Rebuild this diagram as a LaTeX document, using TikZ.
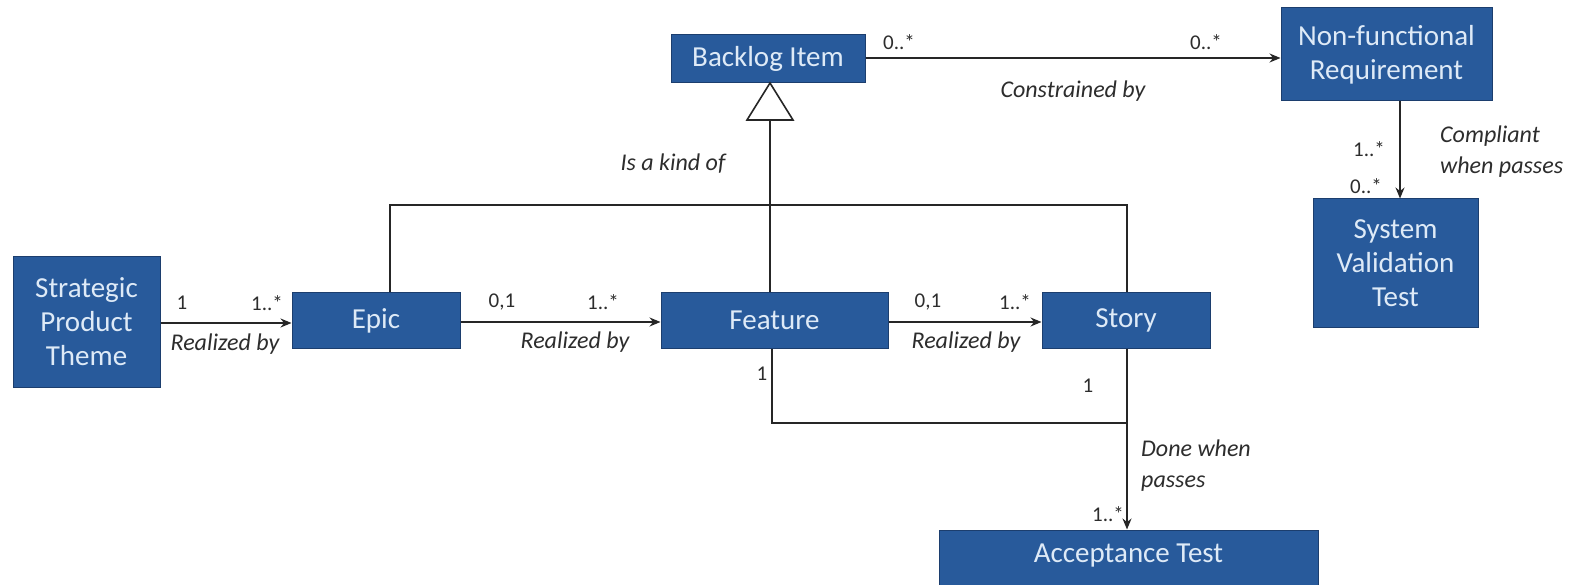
\documentclass[tikz,border=0pt]{standalone}
\usepackage{fontspec}
\setmainfont{Carlito}
\usetikzlibrary{arrows.meta}
\definecolor{boxblue}{RGB}{40,90,155}
\definecolor{boxedge}{RGB}{28,62,110}
\definecolor{boxtext}{RGB}{222,234,247}
\definecolor{lbl}{RGB}{45,45,45}
\tikzset{
  cls/.style={draw=boxedge, line width=1pt, fill=boxblue, text=boxtext,
    inner sep=0pt, align=center, font=\fontsize{29}{34}\selectfont},
  conn/.style={line width=1.6pt, draw=black!85},
  arr/.style={conn, -{Stealth[length=11pt,width=9pt]}},
  mult/.style={text=lbl, inner sep=0pt, font=\fontsize{21}{24}\selectfont},
  role/.style={text=lbl, inner sep=0pt, font=\fontsize{24}{31}\selectfont\itshape, align=left}
}
\begin{document}
\begin{tikzpicture}[x=1pt,y=-1pt]
\useasboundingbox (0,0) rectangle (1587,585);
\fill[white] (0,0) rectangle (1587,585);

% classes
\node[cls, minimum width=147pt, minimum height=130pt] (spt) at (86.5,322) {Strategic\\Product\\Theme};
\node[cls, minimum width=168pt, minimum height=55pt] (epic) at (376,320.5) {Epic};
\node[cls, minimum width=227pt, minimum height=55pt] (feature) at (774.5,320.5) {Feature};
\node[cls, minimum width=168pt, minimum height=55pt] (story) at (1126,320.5) {Story};
\node[cls, minimum width=194pt, minimum height=48pt] (backlog) at (768,59) {Backlog Item};
\node[cls, minimum width=211pt, minimum height=93pt] (nfr) at (1386.5,54.5) {Non-functional\\Requirement};
\node[cls, minimum width=165pt, minimum height=128pt] (svt) at (1395.5,263) {System\\Validation\\Test};
\node[cls, minimum width=379pt, minimum height=62pt] (acc) at (1128.5,561) {};
\node[text=boxtext, font=\fontsize{29}{34}\selectfont, inner sep=0pt] (acctxt) at (1128.5,556) {Acceptance Test};

% helper points
\coordinate (genTop) at (770,83);
\coordinate (genBase) at (770,120);
\coordinate (epicUp) at (390,205);
\coordinate (storyUp) at (1127,205);
\coordinate (featDown) at (772,423);
\coordinate (storyDown) at (1127,423);

% realization chain
\draw[arr] (spt.east |- 0,323) -- (epic.west |- 0,323);
\draw[arr] (epic.east |- 0,322) -- (feature.west |- 0,322);
\draw[arr] (feature.east |- 0,322) -- (story.west |- 0,322);

% constraints and compliance
\draw[arr] (backlog.east |- 0,58) -- (nfr.west |- 0,58);
\draw[arr] (nfr.south -| 1400,0) -- (svt.north -| 1400,0);

% generalization to Backlog Item
\draw[conn] (feature.north -| genBase) -- (genBase);
\draw[conn, fill=white] (genTop) -- (747,120) -- (793,120) -- cycle;
\draw[conn] (epic.north -| epicUp) -- (epicUp) -- (storyUp) -- (story.north -| storyUp);

% acceptance tests
\draw[conn] (feature.south -| featDown) -- (featDown) -- (storyDown);
\draw[arr] (story.south -| storyDown) -- (acc.north -| storyDown);

% multiplicities
\node[mult] (m1) at (182,303) {1};
\node[mult] (m2) at (267,303) {1..*};
\node[mult] (m3) at (502,302) {0,1};
\node[mult] (m4) at (603,302) {1..*};
\node[mult] (m5) at (928,302) {0,1};
\node[mult] (m6) at (1015,302) {1..*};
\node[mult] (m7) at (899,42) {0..*};
\node[mult] (m8) at (1206,42) {0..*};
\node[mult] (m9) at (1369,149) {1..*};
\node[mult] (m10) at (1366,186) {0..*};
\node[mult] (m11) at (762,374) {1};
\node[mult] (m12) at (1088,386) {1};
\node[mult] (m13) at (1108,514) {1..*};

% association names
\node[role] (r1) at (225,344) {Realized by};
\node[role] (r2) at (575,342) {Realized by};
\node[role] (r3) at (966,342) {Realized by};
\node[role] (r4) at (1073,91) {Constrained by};
\node[role] (r5) at (673,164) {Is a kind of};
\node[role, anchor=west] (r6) at (1440,152) {Compliant\\when passes};
\node[role, anchor=west] (r7) at (1141,466) {Done when\\passes};
\end{tikzpicture}
\end{document}
